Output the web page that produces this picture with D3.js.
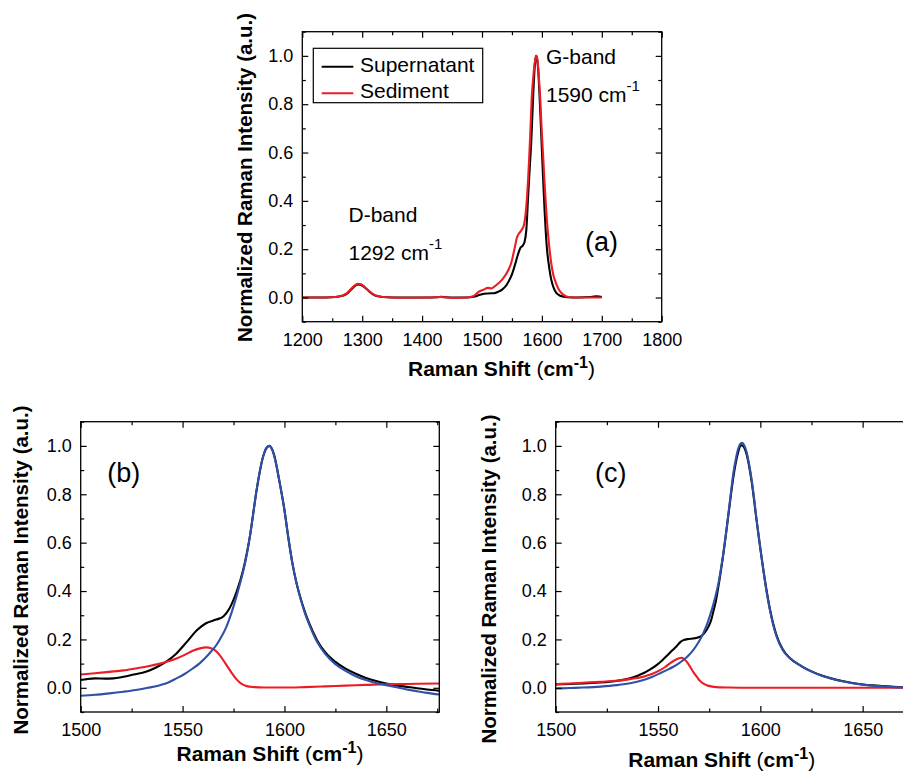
<!DOCTYPE html>
<html>
<head>
<meta charset="utf-8">
<script src="https://cdn.jsdelivr.net/npm/d3@7"></script>
<style>
  body { margin: 0; background: #fff; }
  svg { display: block; }
  text { font-family: "Liberation Sans", Arial, Helvetica, sans-serif; fill: #000; }
</style>
</head>
<body>
<svg id="chart" width="903" height="771"></svg>
<script>
// ---- Panel (a): full Raman spectra, [shift (cm-1), normalized intensity] ----
const supernatantA = [
  [1200,0],[1220,0],[1240,0],[1255,0.002],[1265,0.006],[1274,0.015],[1282,0.034],[1288,0.048],
  [1293,0.054],[1298,0.052],[1303,0.044],[1310,0.029],[1318,0.013],[1326,0.005],[1335,0.002],
  [1350,0],[1380,0],[1410,0],[1425,0.001],[1432,0.003],[1440,0.001],[1455,0],[1470,0],[1480,0.001],
  [1488,0.004],[1495,0.01],[1500,0.014],[1510,0.017],[1520,0.018],[1527,0.024],[1533,0.032],
  [1541,0.052],[1546,0.074],[1550,0.096],[1555,0.135],[1560,0.178],[1564,0.205],[1568,0.215],
  [1571,0.23],[1574,0.28],[1577,0.42],[1580,0.55],[1582,0.632],[1584,0.75],[1586,0.866],
  [1588,0.955],[1590,1.0],[1592,0.985],[1594,0.935],[1596,0.84],[1598.5,0.70],[1600.5,0.58],
  [1602.5,0.466],[1604.5,0.36],[1606.5,0.27],[1608.5,0.2],[1611,0.145],[1614,0.095],[1617,0.06],
  [1622,0.027],[1628,0.011],[1635,0.004],[1642,0.001],[1660,0],[1680,0.002],[1690,0.005],
  [1696,0.004],[1700,0.002]
];
const sedimentA = [
  [1200,0],[1220,0],[1240,0],[1255,0.002],[1265,0.007],[1274,0.017],[1282,0.037],[1288,0.051],
  [1293,0.057],[1298,0.055],[1303,0.046],[1310,0.03],[1318,0.014],[1326,0.006],[1335,0.002],
  [1350,0],[1380,-0.001],[1410,0],[1432,0.002],[1450,-0.002],[1465,-0.001],[1478,0.001],
  [1485,0.005],[1490,0.014],[1495,0.024],[1502,0.032],[1510,0.04],[1515,0.038],[1520,0.044],
  [1527,0.058],[1535,0.078],[1544,0.114],[1549,0.145],[1552,0.176],[1555,0.21],[1558,0.245],
  [1562,0.266],[1566,0.279],[1570,0.30],[1572.5,0.34],[1575,0.41],[1577,0.49],[1579,0.59],
  [1581,0.70],[1583,0.825],[1585.5,0.91],[1587.5,0.963],[1590,0.995],[1591.5,1.0],[1593,0.975],
  [1595,0.908],[1597.5,0.81],[1599.5,0.70],[1602,0.59],[1604,0.494],[1606,0.41],[1608.5,0.315],
  [1611,0.245],[1613.5,0.183],[1616,0.135],[1619,0.094],[1622,0.07],[1625,0.05],[1629,0.03],
  [1633,0.018],[1637,0.01],[1641,0.004],[1648,0.001],[1660,0],[1680,0],[1700,0]
];

// ---- Panel (b): G-band of the supernatant, measured and fitted components ----
const measuredB = [
  [1500,0.032],[1503,0.036],[1507,0.039],[1512,0.038],[1516,0.039],[1521,0.046],[1526,0.055],
  [1532,0.066],[1537,0.084],[1542,0.108],[1547,0.142],[1552,0.189],[1557,0.238],[1561.5,0.267],
  [1566.5,0.282],[1570,0.295],[1573,0.328],[1576.5,0.397],[1579.7,0.486],[1583,0.624],
  [1586.3,0.815],[1589.5,0.955],[1592.5,1.0],[1595,0.96],[1597.5,0.855],[1600,0.735],[1602,0.615],
  [1604,0.51],[1606,0.43],[1608,0.368],[1610,0.315],[1612,0.27],[1616,0.197],[1620,0.147],
  [1625,0.107],[1630,0.079],[1635,0.058],[1640,0.041],[1645,0.028],[1650,0.018],[1655,0.01],
  [1660,0.004],[1665,-0.002],[1670,-0.007],[1676,-0.012]
];
const lowFitB = [
  [1500,0.055],[1507,0.06],[1514,0.066],[1521,0.072],[1527,0.08],[1533,0.089],[1539,0.1],
  [1543,0.11],[1547,0.121],[1551,0.136],[1555,0.153],[1558.5,0.163],[1561.7,0.167],[1564,0.164],
  [1566,0.155],[1568,0.137],[1570,0.114],[1572,0.088],[1574,0.063],[1576.4,0.036],[1579,0.016],
  [1581.5,0.007],[1585,0.003],[1590,0.001],[1600,0.001],[1610,0.003],[1620,0.006],[1630,0.009],
  [1640,0.012],[1650,0.015],[1660,0.016],[1676,0.018]
];
const mainFitB = [
  [1500,-0.033],[1507,-0.029],[1514,-0.023],[1521,-0.016],[1527,-0.009],[1533,0.0],[1539,0.011],
  [1543,0.022],[1547,0.039],[1551,0.057],[1555,0.08],[1558.5,0.102],[1561.7,0.128],[1564,0.15],
  [1566.6,0.177],[1569,0.21],[1571.5,0.252],[1574,0.31],[1576.4,0.376],[1578,0.425],[1579.7,0.48],
  [1581.5,0.55],[1583,0.624],[1584.7,0.72],[1586.3,0.817],[1588,0.9],[1589.5,0.955],[1591,0.99],
  [1592.5,1.0],[1594,0.985],[1595.5,0.94],[1597.5,0.855],[1600,0.735],[1602,0.615],[1604,0.51],
  [1606,0.43],[1608,0.365],[1610,0.31],[1612,0.265],[1616,0.19],[1620,0.14],[1625,0.098],
  [1630,0.07],[1635,0.048],[1640,0.032],[1645,0.02],[1650,0.011],[1655,0.002],[1660,-0.007],
  [1665,-0.014],[1670,-0.021],[1676,-0.028]
];

// ---- Panel (c): G-band of the sediment, measured and fitted components ----
const measuredC = [
  [1500,0.014],[1507,0.016],[1513.5,0.018],[1520,0.021],[1526.5,0.025],[1531,0.03],[1536.3,0.039],
  [1540,0.05],[1542.8,0.06],[1546,0.075],[1549.3,0.094],[1552,0.113],[1554.2,0.131],[1557,0.155],
  [1559.1,0.172],[1561,0.19],[1562.4,0.197],[1565,0.202],[1567.2,0.204],[1569.5,0.208],
  [1571.3,0.215],[1573,0.23],[1574.6,0.252],[1576,0.28],[1577,0.314],[1578.3,0.36],[1579.5,0.418],
  [1581.9,0.552],[1584.4,0.715],[1586.8,0.87],[1588,0.93],[1589.2,0.975],[1590.5,1.003],
  [1591.5,1.0],[1593.3,0.965],[1595.8,0.85],[1598.2,0.69],[1601.5,0.486],[1604.7,0.325],
  [1608,0.215],[1611,0.158],[1614.5,0.122],[1620,0.09],[1625,0.068],[1630,0.051],[1635,0.038],
  [1640,0.028],[1645,0.02],[1650,0.014],[1655,0.01],[1660,0.007],[1665,0.004],[1670,0.002],
  [1675,0.001]
];
const lowFitC = [
  [1500,0.015],[1507,0.018],[1513.5,0.021],[1522,0.025],[1529.8,0.029],[1537,0.037],[1542.8,0.046],
  [1547,0.057],[1551,0.073],[1553.5,0.086],[1555.8,0.101],[1558,0.113],[1559.9,0.121],
  [1561.5,0.124],[1562.8,0.118],[1564,0.108],[1565.6,0.088],[1567.2,0.066],[1569,0.045],
  [1570.5,0.029],[1572,0.018],[1573.8,0.011],[1576,0.006],[1578.7,0.003],[1585,0.001],[1595,0],
  [1675,0]
];
const mainFitC = [
  [1500,-0.003],[1507,-0.001],[1513.5,0.001],[1522,0.005],[1529.8,0.011],[1537,0.02],[1542.8,0.032],
  [1547,0.045],[1551,0.06],[1554.5,0.074],[1557.5,0.087],[1560,0.1],[1562.4,0.115],[1565,0.135],
  [1567.2,0.156],[1569.8,0.188],[1572.1,0.225],[1574.2,0.268],[1576.2,0.321],[1578,0.375],
  [1579.5,0.431],[1581,0.505],[1581.9,0.555],[1583.2,0.635],[1584.4,0.72],[1585.6,0.805],
  [1586.8,0.886],[1588,0.945],[1589.2,0.989],[1590.2,1.008],[1591,1.013],[1592,1.005],
  [1593.3,0.975],[1594.5,0.925],[1595.8,0.858],[1597,0.78],[1598.2,0.693],[1599.8,0.59],
  [1601.5,0.486],[1603,0.4],[1604.7,0.321],[1606.3,0.26],[1608,0.21],[1611,0.155],[1614.5,0.122],
  [1620,0.09],[1625,0.067],[1630,0.05],[1635,0.037],[1640,0.027],[1645,0.019],[1650,0.013],
  [1655,0.009],[1660,0.006],[1665,0.003],[1670,0.001],[1675,0]
];

// ---- Axis ticks ----
const ticksXA = [1200, 1300, 1400, 1500, 1600, 1700, 1800];
const minorXA = [1250, 1350, 1450, 1550, 1650, 1750];
const ticksXBC = [1500, 1550, 1600, 1650];
const minorXBC = [1525, 1575, 1625, 1675];
const ticksY = [0.0, 0.2, 0.4, 0.6, 0.8, 1.0];
const minorY = [-0.1, 0.1, 0.3, 0.5, 0.7, 0.9, 1.1];

const legendLabels = ["Supernatant", "Sediment"];

const BLACK = "#000000", RED = "#ec1c24", BLUE = "#3050a6";

const svg = d3.select("#chart");
svg.append("rect").attr("width", 903).attr("height", 771).attr("fill", "#fff");

let clipId = 0;

function drawPanel(cfg) {
  const x = d3.scaleLinear().domain(cfg.xDomain).range([cfg.left, cfg.right]);
  const y = d3.scaleLinear().domain([-0.1, 1.1]).range([cfg.bottom, cfg.top]);
  const g = svg.append("g");

  // data lines, clipped to the plotting area
  const id = "clip" + (clipId++);
  svg.append("clipPath").attr("id", id).append("rect")
    .attr("x", cfg.left).attr("y", cfg.top)
    .attr("width", cfg.right - cfg.left).attr("height", cfg.bottom - cfg.top);
  const line = d3.line().x(d => x(d[0])).y(d => y(d[1])).curve(d3.curveMonotoneX);
  const lines = g.append("g").attr("clip-path", `url(#${id})`);
  cfg.series.forEach(s => {
    lines.append("path").datum(s.data)
      .attr("fill", "none").attr("stroke", s.color)
      .attr("stroke-width", 2.1).attr("stroke-linejoin", "round")
      .attr("d", line);
  });

  // inward ticks on all four sides
  const major = 6, minor = 3.5;
  const styleAxis = sel => {
    sel.select(".domain").remove();
    sel.selectAll(".tick line").attr("stroke", "#000").attr("stroke-width", 1.2);
    sel.selectAll("text").attr("font-size", 18).attr("fill", "#000")
      .attr("font-family", '"Liberation Sans", Arial, sans-serif');
  };
  g.append("g").attr("transform", `translate(0,${cfg.bottom})`)
    .call(d3.axisBottom(x).tickValues(cfg.xTicks).tickSize(-major).tickPadding(11.5).tickFormat(d3.format("d")))
    .call(styleAxis);
  g.append("g").attr("transform", `translate(0,${cfg.bottom})`)
    .call(d3.axisBottom(x).tickValues(cfg.xMinor).tickSize(-minor).tickFormat(""))
    .call(styleAxis);
  g.append("g").attr("transform", `translate(0,${cfg.top})`)
    .call(d3.axisTop(x).tickValues(cfg.xTicks).tickSize(-major).tickFormat(""))
    .call(styleAxis);
  g.append("g").attr("transform", `translate(0,${cfg.top})`)
    .call(d3.axisTop(x).tickValues(cfg.xMinor).tickSize(-minor).tickFormat(""))
    .call(styleAxis);
  g.append("g").attr("transform", `translate(${cfg.left},0)`)
    .call(d3.axisLeft(y).tickValues(ticksY).tickSize(-major).tickPadding(9).tickFormat(d3.format(".1f")))
    .call(styleAxis);
  g.append("g").attr("transform", `translate(${cfg.left},0)`)
    .call(d3.axisLeft(y).tickValues(minorY).tickSize(-minor).tickFormat(""))
    .call(styleAxis);
  g.append("g").attr("transform", `translate(${cfg.right},0)`)
    .call(d3.axisRight(y).tickValues(ticksY).tickSize(-major).tickFormat(""))
    .call(styleAxis);
  g.append("g").attr("transform", `translate(${cfg.right},0)`)
    .call(d3.axisRight(y).tickValues(minorY).tickSize(-minor).tickFormat(""))
    .call(styleAxis);

  // frame
  g.append("rect")
    .attr("x", cfg.left).attr("y", cfg.top)
    .attr("width", cfg.right - cfg.left).attr("height", cfg.bottom - cfg.top)
    .attr("fill", "none").attr("stroke", "#000").attr("stroke-width", 1.3);

  // x-axis title
  const xt = g.append("text").attr("x", cfg.xTitle[0]).attr("y", cfg.xTitle[1])
    .attr("text-anchor", "middle").attr("font-size", 21).attr("font-weight", "bold");
  xt.append("tspan").text("Raman Shift ");
  xt.append("tspan").attr("font-weight", "normal").text("(");
  xt.append("tspan").text("cm");
  xt.append("tspan").attr("font-size", 16).attr("dy", -8).text("-1");
  xt.append("tspan").attr("font-weight", "normal").attr("dy", 8).text(")");

  // y-axis title
  g.append("text")
    .attr("transform", `translate(${cfg.yTitle[0]},${cfg.yTitle[1]}) rotate(-90)`)
    .attr("text-anchor", "middle").attr("font-size", 20.5).attr("font-weight", "bold")
    .text("Normalized Raman Intensity (a.u.)");

  // panel tag
  g.append("text").attr("x", cfg.tag[0]).attr("y", cfg.tag[1])
    .attr("font-size", 27).text(cfg.tagText);

  return { x, y, g };
}

// ---- (a) ----
const pa = drawPanel({
  left: 302.3, right: 661.7, top: 31.7, bottom: 321.7,
  xDomain: [1200, 1800], xTicks: ticksXA, xMinor: minorXA,
  series: [{ data: supernatantA, color: BLACK }, { data: sedimentA, color: RED }],
  xTitle: [501.5, 376], yTitle: [251.5, 177.5], tag: [585, 251], tagText: "(a)"
});

// band annotations
function bandLabel(g, xPos, yName, yPos, name, pos) {
  g.append("text").attr("x", xPos).attr("y", yName).attr("font-size", 21).text(name);
  const t = g.append("text").attr("x", xPos).attr("y", yPos).attr("font-size", 21);
  t.append("tspan").text(pos + " cm");
  t.append("tspan").attr("font-size", 15).attr("dy", -11).text("-1");
}
bandLabel(pa.g, 546, 64, 101.5, "G-band", "1590");
bandLabel(pa.g, 348.5, 221.5, 260, "D-band", "1292");

// legend
const lg = pa.g.append("g");
lg.append("rect").attr("x", 313.3).attr("y", 48.3).attr("width", 169.4).attr("height", 54.4)
  .attr("fill", "#fff").attr("stroke", "#000").attr("stroke-width", 1.2);
[BLACK, RED].forEach((c, i) => {
  const yy = 66.8 + i * 26.5;
  lg.append("line").attr("x1", 321.7).attr("x2", 353.3).attr("y1", yy).attr("y2", yy)
    .attr("stroke", c).attr("stroke-width", 2.1);
  lg.append("text").attr("x", 360).attr("y", yy + 5).attr("font-size", 21).text(legendLabels[i]);
});

// ---- (b) ----
drawPanel({
  left: 80.7, right: 439.3, top: 421.7, bottom: 712,
  xDomain: [1500, 1676], xTicks: ticksXBC, xMinor: minorXBC,
  series: [{ data: measuredB, color: BLACK }, { data: lowFitB, color: RED }, { data: mainFitB, color: BLUE }],
  xTitle: [270, 761], yTitle: [28, 570], tag: [107.3, 481.5], tagText: "(b)"
});

// ---- (c) ----
drawPanel({
  left: 555.7, right: 913.8, top: 421.7, bottom: 712,
  xDomain: [1500, 1675], xTicks: ticksXBC, xMinor: minorXBC,
  series: [{ data: measuredC, color: BLACK }, { data: lowFitC, color: RED }, { data: mainFitC, color: BLUE }],
  xTitle: [721.7, 767], yTitle: [496.3, 579], tag: [595, 481.5], tagText: "(c)"
});
</script>
</body>
</html>
